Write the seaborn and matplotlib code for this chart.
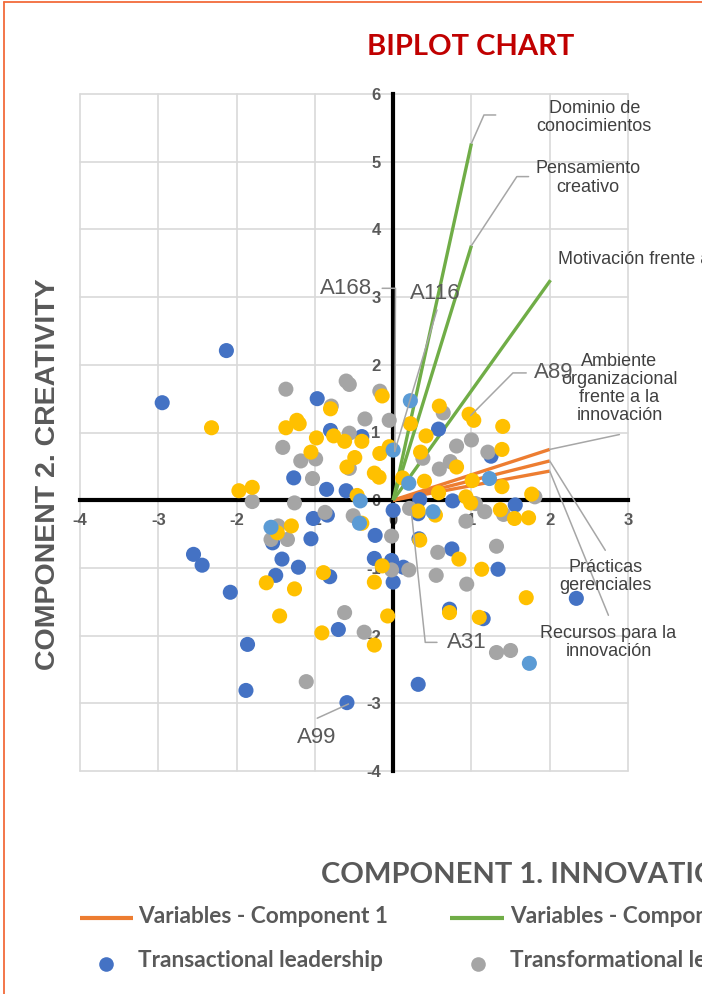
import matplotlib
matplotlib.use("Agg")
import matplotlib.pyplot as plt
import pandas as pd
import seaborn as sns
from matplotlib.lines import Line2D

# ---- individual scores (component 1, component 2) ----
transactional_c1 = [-2.95, -2.13, -0.97, -0.80, -0.40, -1.27, -0.85, -0.60, 0.00, -1.02,
                    -0.84, -2.55, -2.44, -1.54, -1.42, -1.21, -1.50, -0.81, -2.08, -1.05,
                    -0.23, -0.24, -0.02, 0.00, -0.70, -1.86, -1.88, -0.59, 0.58, 1.25,
                    0.34, 0.76, 1.56, 0.32, 0.33, 0.75, 1.34, 0.13, 0.72, 1.15, 2.34, 0.32]
transactional_c2 = [1.44, 2.21, 1.50, 1.03, 0.94, 0.33, 0.16, 0.14, -0.15, -0.27,
                    -0.22, -0.80, -0.96, -0.63, -0.87, -0.99, -1.11, -1.13, -1.36, -0.57,
                    -0.52, -0.86, -0.89, -1.21, -1.91, -2.13, -2.81, -2.99, 1.05, 0.65,
                    0.01, -0.01, -0.07, -0.20, -0.57, -0.72, -1.02, -0.99, -1.61, -1.75, -1.45, -2.72]

transformational_c1 = [-1.37, -0.60, -0.56, -0.17, -0.79, -0.36, -0.05, -0.56, -1.41, -1.18,
                       -0.99, -1.03, -0.56, -1.80, -1.26, -0.87, -0.51, 0.64, 0.81, 1.00,
                       1.21, 0.59, 0.73, 1.05, 1.17, 0.21, -1.47, -1.56, -1.35, -0.02,
                       -0.02, -0.62, -0.37, -1.11, 0.38, 1.81, 0.93, 1.41, 0.57, 1.32,
                       0.20, 0.55, 0.94, 1.32, 1.50]
transformational_c2 = [1.64, 1.76, 1.71, 1.61, 1.39, 1.20, 1.18, 0.99, 0.78, 0.58,
                       0.61, 0.32, 0.47, -0.02, -0.04, -0.18, -0.23, 1.29, 0.80, 0.89,
                       0.71, 0.46, 0.57, -0.05, -0.17, -0.12, -0.38, -0.58, -0.58, -0.53,
                       -1.03, -1.66, -1.95, -2.68, 0.62, 0.05, -0.31, -0.21, -0.77, -0.68,
                       -1.03, -1.11, -1.24, -2.25, -2.22]

laissez_c1 = [-2.32, -0.14, -0.80, -1.37, -1.23, -1.20, -0.98, -0.76, -0.62, -0.40,
              -1.05, -0.49, -0.17, -0.05, -0.59, -0.24, -0.18, -1.97, -1.80, -0.46,
              0.12, 0.59, 0.97, 1.03, 1.40, 0.22, 0.42, 0.35, 1.39, 0.81,
              0.40, 0.58, 1.01, 1.39, 0.93, 0.99, 1.77, 0.32, 0.54, 0.34,
              0.84, 1.13, 1.70, 0.72, 1.10, 1.37, 1.55, 1.73, -1.48, -1.30,
              -1.62, -1.26, -0.89, -1.45, -0.91, -0.14, -0.24, -0.07, -0.24, -0.40]
laissez_c2 = [1.07, 1.54, 1.35, 1.07, 1.18, 1.13, 0.92, 0.95, 0.87, 0.87,
              0.71, 0.63, 0.69, 0.79, 0.49, 0.40, 0.34, 0.14, 0.19, 0.07,
              0.33, 1.39, 1.27, 1.18, 1.09, 1.13, 0.95, 0.71, 0.75, 0.49,
              0.28, 0.11, 0.29, 0.20, 0.05, -0.04, 0.09, -0.16, -0.22, -0.59,
              -0.87, -1.02, -1.44, -1.66, -1.73, -0.14, -0.27, -0.26, -0.48, -0.38,
              -1.22, -1.31, -1.07, -1.71, -1.96, -0.97, -1.21, -1.71, -2.14, -0.34]

participative_c1 = [0.00, -0.42, 0.22, 0.20, 1.23, 0.51, -1.56, -0.43, 1.74]
participative_c2 = [0.74, -0.01, 1.47, 0.25, 0.32, -0.17, -0.40, -0.34, -2.41]

group_names = ["Transactional leadership", "Transformational leadership",
               "Laissez-faire leadership", "Participative leadership"]

# ---- variable loadings ----
comp1_vars = ["Ambiente\norganizacional\nfrente a la\ninnovación",
              "Prácticas\ngerenciales",
              "Recursos para la\ninnovación"]
comp1_x = [2.0, 2.0, 2.0]
comp1_y = [0.75, 0.58, 0.43]

comp2_vars = ["Dominio de\nconocimientos",
              "Pensamiento\ncreativo",
              "Motivación frente a la creatividad"]
comp2_x = [1.0, 1.0, 2.01]
comp2_y = [5.27, 3.76, 3.25]

# labelled individuals: (name, group index, point index)
point_labels = [("A168", 3, 0), ("A116", 3, 0), ("A89", 2, 22),
                ("A31", 1, 25), ("A99", 0, 27)]

x_ticks = [-4, -3, -2, -1, 0, 1, 2, 3]
y_ticks = [-4, -3, -2, -1, 0, 1, 2, 3, 4, 5, 6]

# ---- styling ----
BLUE, GRAY, YELLOW, LBLUE = "#4472C4", "#A5A5A5", "#FFC000", "#5B9BD5"
ORANGE, GREEN = "#ED7D31", "#70AD47"
TXT = "#595959"
NARROW = ["Lato", "DejaVu Sans"]

sns.set_theme(style="white")
plt.rcParams["font.family"] = ["Liberation Sans", "DejaVu Sans"]
plt.rcParams["axes.unicode_minus"] = False

W, H = 702, 994
fig = plt.figure(figsize=(W / 100, H / 100), dpi=100)
ax = fig.add_axes([80 / W, 1 - 771 / H, 548 / W, 677 / H])


def fpt(x, y):
    return x / W, 1 - y / H


frames = []
for name, cx, cy in zip(group_names,
                        [transactional_c1, transformational_c1, laissez_c1, participative_c1],
                        [transactional_c2, transformational_c2, laissez_c2, participative_c2]):
    frames.append(pd.DataFrame({"c1": cx, "c2": cy, "group": name}))
df = pd.concat(frames, ignore_index=True)
palette = dict(zip(group_names, [BLUE, GRAY, YELLOW, LBLUE]))

# variable vectors
for vx, vy in zip(comp1_x, comp1_y):
    ax.plot([0, vx], [0, vy], color=ORANGE, lw=2.4, zorder=2.6, solid_capstyle="butt")
for vx, vy in zip(comp2_x, comp2_y):
    ax.plot([0, vx], [0, vy], color=GREEN, lw=2.4, zorder=2.6, solid_capstyle="butt")

sns.scatterplot(data=df, x="c1", y="c2", hue="group", hue_order=group_names,
                palette=palette, s=118, linewidth=0, alpha=1, legend=False,
                ax=ax, zorder=3)

# axes at the origin
ax.set_xlim(-4, 3)
ax.set_ylim(-4, 6)
ax.set_xticks(x_ticks)
ax.set_yticks(y_ticks)
ax.set_xticklabels([str(t) for t in x_ticks])
ax.set_yticklabels([str(t) for t in y_ticks])
ax.spines["left"].set_position(("data", 0))
ax.spines["bottom"].set_position(("data", 0))
for s in ("left", "bottom"):
    ax.spines[s].set_linewidth(3.0)
    ax.spines[s].set_color("black")
    ax.spines[s].set_zorder(2.5)
for s in ("top", "right"):
    ax.spines[s].set_visible(False)
ax.grid(True, color="#D9D9D9", lw=1.2, zorder=0.5)
for gl in ax.get_xgridlines() + ax.get_ygridlines():
    gl.set_clip_on(False)
ax.tick_params(axis="both", length=0, labelsize=12, labelcolor=TXT, pad=9)
for lbl in ax.get_xticklabels() + ax.get_yticklabels():
    lbl.set_fontweight("bold")
ax.set_xlabel("")
ax.set_ylabel("")

# variable labels with leader lines
LEAD = "#A6A6A6"
var_label_pos = [(2.89, 1.65), (2.71, -1.13), (2.75, -2.10)]
var_leaders = [[(2.89, 0.97)], [(2.71, -0.74)], [(2.75, -1.70)]]
for name, vx, vy, (tx, ty), pts in zip(comp1_vars, comp1_x, comp1_y, var_label_pos, var_leaders):
    xs = [vx] + [p[0] for p in pts]
    ys = [vy] + [p[1] for p in pts]
    ax.plot(xs, ys, color=LEAD, lw=1.1, zorder=4, clip_on=False)
    ax.text(tx, ty, name, ha="center", va="center", fontsize=13, color="#404040",
            linespacing=1.1, zorder=5, clip_on=False)

var2_label_pos = [(2.57, 5.65, "center"), (2.49, 4.76, "center"), (2.11, 3.55, "left")]
var2_leaders = [[(1.16, 5.69), (1.31, 5.69)], [(1.58, 4.78), (1.73, 4.78)], []]
for name, vx, vy, (tx, ty, ha), pts in zip(comp2_vars, comp2_x, comp2_y, var2_label_pos, var2_leaders):
    if pts:
        xs = [vx] + [p[0] for p in pts]
        ys = [vy] + [p[1] for p in pts]
        ax.plot(xs, ys, color=LEAD, lw=1.1, zorder=4, clip_on=False)
    ax.text(tx, ty, name, ha=ha, va="center", fontsize=13, color="#404040",
            linespacing=1.1, zorder=5, clip_on=False)

# labelled individuals
groups_c1 = [transactional_c1, transformational_c1, laissez_c1, participative_c1]
groups_c2 = [transactional_c2, transformational_c2, laissez_c2, participative_c2]
label_layout = {
    "A168": ((-0.27, 3.13), "right", [(-0.14, 3.13), (0.03, 3.13)]),
    "A116": ((0.22, 3.06), "left", [(0.56, 2.81)]),
    "A89": ((1.80, 1.88), "left", [(1.70, 1.88), (1.53, 1.88)]),
    "A31": ((0.69, -2.10), "left", [(0.56, -2.10), (0.41, -2.10)]),
    "A99": ((-1.23, -3.50), "left", [(-0.97, -3.22)]),
}
for name, g, i in point_labels:
    (tx, ty), ha, pts = label_layout[name]
    px_, py_ = groups_c1[g][i], groups_c2[g][i]
    xs = [p[0] for p in pts] + [px_ + 0.02]
    ys = [p[1] for p in pts] + [py_ - 0.02]
    ax.plot(xs, ys, color=LEAD, lw=1.1, zorder=4)
    ax.text(tx, ty, name, ha=ha, va="center", fontsize=16, color=TXT, zorder=5)

# titles
fig.text(*fpt(471, 55), "BIPLOT CHART", ha="center", va="baseline", fontsize=21,
         fontweight="bold", color="#C00000", family=NARROW)
fig.text(*fpt(48, 474), "COMPONENT 2. CREATIVITY", rotation=90, ha="center", va="center",
         fontsize=20.5, fontweight="bold", color=TXT)
fig.text(*fpt(321, 883), "COMPONENT 1. INNOVATION", ha="left", va="baseline",
         fontsize=21, fontweight="bold", color=TXT, family=NARROW)

# legend
def leg_line(x0, x1, y, color):
    fig.add_artist(Line2D([x0 / W, x1 / W], [1 - y / H] * 2, transform=fig.transFigure,
                          color=color, lw=3.0, solid_capstyle="butt"))


def leg_dot(x, y, color):
    fig.add_artist(Line2D([x / W], [1 - y / H], transform=fig.transFigure, marker="o",
                          ms=10.5, color=color, lw=0, markeredgewidth=0))


LEG_FS = 16.3
leg_line(80, 133, 918, ORANGE)
fig.text(*fpt(138, 923), "Variables - Component 1", ha="left", va="baseline", fontsize=LEG_FS,
         fontweight="bold", color=TXT, family=NARROW)
leg_line(450, 504, 918, GREEN)
fig.text(*fpt(510, 923), "Variables - Component 2", ha="left", va="baseline", fontsize=LEG_FS,
         fontweight="bold", color=TXT, family=NARROW)
leg_dot(106.5, 963.5, BLUE)
fig.text(*fpt(138, 967), group_names[0], ha="left", va="baseline", fontsize=LEG_FS,
         fontweight="bold", color=TXT, family=NARROW)
leg_dot(478, 963.5, GRAY)
fig.text(*fpt(510, 967), group_names[1], ha="left", va="baseline", fontsize=LEG_FS,
         fontweight="bold", color=TXT, family=NARROW)

# chart border
BORDER = "#F26B3A"
fig.add_artist(Line2D([3.5 / W, 3.5 / W], [0, 1 - 1.5 / H], transform=fig.transFigure,
                      color=BORDER, lw=1.3))
fig.add_artist(Line2D([3.5 / W, 1], [1 - 1.5 / H, 1 - 1.5 / H], transform=fig.transFigure,
                      color=BORDER, lw=1.3))

fig.savefig("out.png", dpi=100)
